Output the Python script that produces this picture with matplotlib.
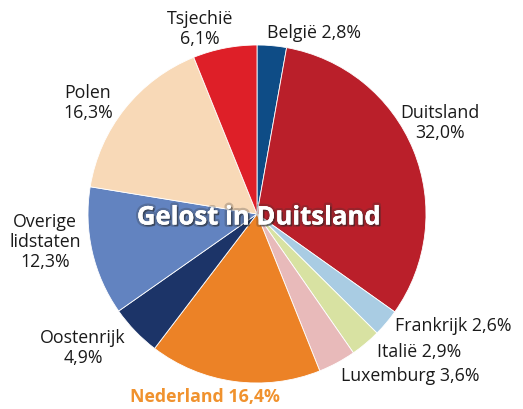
import matplotlib
matplotlib.use("Agg")
import matplotlib.pyplot as plt
import matplotlib.patheffects as pe

plt.rcParams["font.family"] = ["Open Sans", "DejaVu Sans"]

# share of goods unloaded in Germany, by country of origin (%)
countries = ["België", "Duitsland", "Frankrijk", "Italië", "Luxemburg",
             "Nederland", "Oostenrijk", "Overige\nlidstaten", "Polen", "Tsjechië"]
shares = [2.8, 32.0, 2.6, 2.9, 3.6, 16.4, 4.9, 12.3, 16.3, 6.1]
colors = ["#0E4C86", "#BA1F2A", "#A9CCE3", "#D8E2A2", "#E8BABA",
          "#EC8226", "#1C3468", "#6283C0", "#F8D9B7", "#DE1F28"]

W, H = 523, 409
fig = plt.figure(figsize=(W / 100, H / 100), dpi=100)
ax = fig.add_axes([0, 0, 1, 1])

cx, cy, r = 257, H - 214, 169
ax.pie(shares, colors=colors, startangle=90, counterclock=False,
       center=(cx, cy), radius=r, frame=True,
       wedgeprops=dict(edgecolor="white", linewidth=0.6))
ax.set_xlim(0, W)
ax.set_ylim(0, H)
ax.set_aspect("equal")
ax.axis("off")


def fmt(v):
    return f"{v:.1f}%".replace(".", ",")


# label anchors in pixel space: (x, y from top, ha, one-line?)
label_pos = {
    "België": (267, 33, "left", True),
    "Duitsland": (440, 123, "center", False),
    "Frankrijk": (395, 326, "left", True),
    "Italië": (377, 352, "left", True),
    "Luxemburg": (341, 376, "left", True),
    "Nederland": (130, 397, "left", True),
    "Oostenrijk": (83, 348, "center", False),
    "Overige\nlidstaten": (45, 242, "center", False),
    "Polen": (88, 103, "center", False),
    "Tsjechië": (200, 29, "center", False),
}

for name, val in zip(countries, shares):
    x, y, ha, one_line = label_pos[name]
    sep = " " if one_line else "\n"
    txt = f"{name}{sep}{fmt(val)}"
    if name == "Nederland":
        ax.text(x, H - y, txt, ha=ha, va="center", fontsize=12.8,
                color="#F0922E", fontweight="bold")
    else:
        ax.text(x, H - y, txt, ha=ha, va="center", fontsize=12.8,
                color="#1a1a1a", linespacing=1.12)

ax.text(cx + 2, H - 217, "Gelost in Duitsland", ha="center", va="center",
        fontsize=18.5, fontweight="bold", color="white",
        path_effects=[pe.withSimplePatchShadow(offset=(1.2, -1.2),
                                               shadow_rgbFace="#202020", alpha=0.5),
                      pe.withStroke(linewidth=3.5, foreground="#303030", alpha=0.25),
                      pe.Normal()])

fig.savefig("out.png", dpi=100)
